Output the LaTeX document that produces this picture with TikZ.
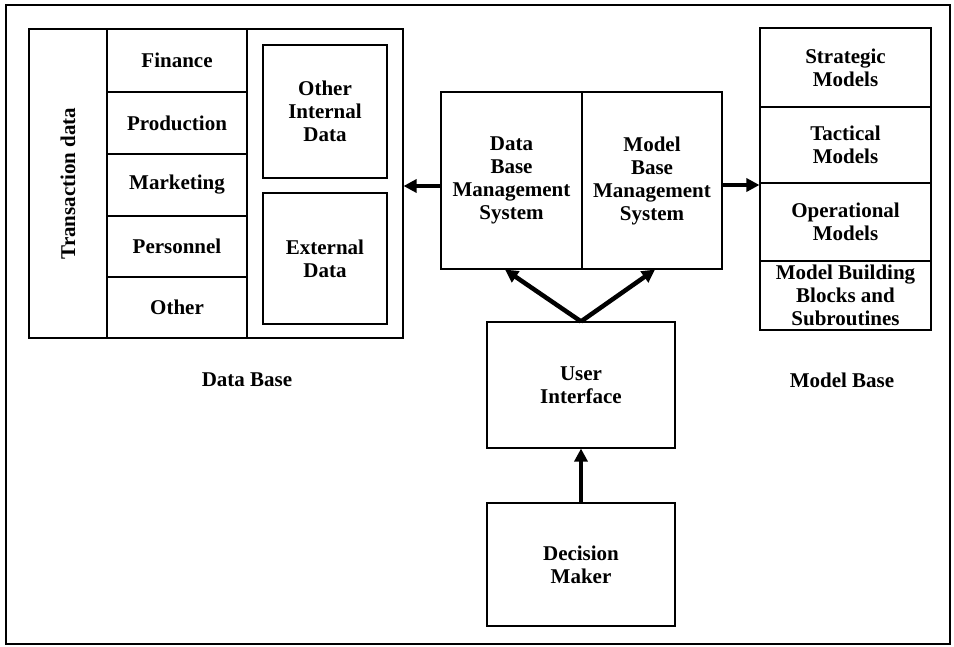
\documentclass[tikz,border=0pt]{standalone}
\usepackage{fontspec}
\setmainfont{Liberation Serif}
\usetikzlibrary{arrows.meta}
\begin{document}
\begin{tikzpicture}[x=1pt,y=-1pt,
  box/.style={draw,line width=1.1pt,inner sep=0pt,align=center,
    font=\fontsize{21}{23}\selectfont\bfseries},
  lbl/.style={inner sep=0pt,align=center,font=\fontsize{21}{23}\selectfont\bfseries},
  bigarrow/.style={line width=4.5pt,-{Triangle[length=13pt,width=13pt]}},
  frame/.style={draw,line width=2.5pt}]
\useasboundingbox (0,0) rectangle (954,646);
\draw[frame] (6,5) rectangle (950,644);
% Data base
\node[box,minimum width=374pt,minimum height=309pt] (db) at (216,183.5) {};
\node[box,minimum width=78pt,minimum height=309pt] (trans) at (68,183.5) {};
\node[lbl,rotate=90] (transtxt) at (trans.center) {Transaction data};
\node[box,minimum width=140pt,minimum height=63pt] (fin) at (177,60.5) {Finance};
\node[box,minimum width=140pt,minimum height=62pt] (prod) at (177,123) {Production};
\node[box,minimum width=140pt,minimum height=62pt] (mkt) at (177,185) {Marketing};
\node[box,minimum width=140pt,minimum height=61pt] (pers) at (177,246.5) {Personnel};
\node[box,minimum width=140pt,minimum height=61pt] (oth) at (177,307.5) {Other};
\node[box,minimum width=124pt,minimum height=133pt] (oid) at (325,111.5) {Other\\Internal\\Data};
\node[box,minimum width=124pt,minimum height=131pt] (ext) at (325,258.5) {External\\Data};
\node[lbl] (dblabel) at (247,380) {Data Base};
% Management systems
\node[box,minimum width=141pt,minimum height=177pt] (dbms) at (511.5,180.5) {Data\\Base\\Management\\System};
\node[box,minimum width=140pt,minimum height=177pt] (mbms) at (652,180.5) {Model\\Base\\Management\\System};
% Model base
\node[box,minimum width=171pt,minimum height=79pt] (strat) at (845.5,67.5) {Strategic\\Models};
\node[box,minimum width=171pt,minimum height=76pt] (tact) at (845.5,145) {Tactical\\Models};
\node[box,minimum width=171pt,minimum height=78pt] (oper) at (845.5,222) {Operational\\Models};
\node[box,minimum width=171pt,minimum height=69pt] (mbb) at (845.5,295.5) {Model Building\\Blocks and\\Subroutines};
\node[lbl] (mblabel) at (842,380) {Model Base};
% User interface and decision maker
\node[box,minimum width=188pt,minimum height=126pt] (ui) at (581,385) {User\\Interface};
\node[box,minimum width=188pt,minimum height=123pt] (dm) at (581,564.5) {Decision\\Maker};
% Arrows
\coordinate (la) at ([yshift=-5.5pt]dbms.west);
\coordinate (ra) at ([yshift=-4.5pt]mbms.east);
\coordinate (ldst) at ([xshift=-6.5pt]dbms.south);
\coordinate (rdst) at ([xshift=3pt]mbms.south);
\draw[bigarrow] (la) -- (la -| db.east);
\draw[bigarrow] (ra) -- (ra -| tact.west);
\draw[bigarrow] (ui.north) -- (ldst);
\draw[bigarrow] (ui.north) -- (rdst);
\draw[bigarrow] (dm.north) -- (ui.south);
\end{tikzpicture}
\end{document}
